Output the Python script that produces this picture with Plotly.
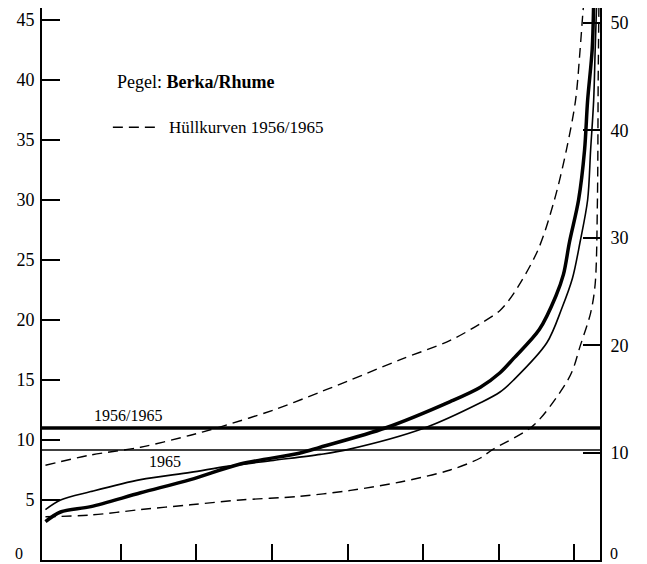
import plotly.graph_objects as go

# ---- data (x: days of year, y: left-axis units) ----
thick_days = [0, 10, 30, 63, 96, 129, 168, 182, 225, 268, 288, 301, 310, 327, 338, 343, 347, 353, 357, 359, 362, 363]
thick_vals = [3.2, 4.0, 4.45, 5.6, 6.7, 8.0, 8.9, 9.4, 11.0, 13.2, 14.4, 15.6, 16.8, 19.2, 22.0, 23.8, 26.5, 30.0, 34.2, 38.3, 42.5, 46.5]

thin_days = [0, 10, 30, 63, 96, 120, 151, 182, 200, 251, 288, 301, 310, 332, 342, 349, 354, 359, 361, 363, 364, 365]
thin_vals = [4.2, 5.0, 5.7, 6.7, 7.3, 7.8, 8.3, 8.8, 9.2, 11.0, 13.1, 14.0, 15.0, 18.1, 21.0, 23.5, 26.5, 30.0, 34.2, 38.3, 42.5, 46.5]

upper_days = [0, 30, 63, 96, 116, 151, 182, 202, 235, 268, 288, 301, 310, 326, 337, 345, 351, 354, 356, 357]
upper_vals = [7.9, 8.75, 9.4, 10.4, 11.1, 12.5, 14.0, 15.0, 16.7, 18.3, 19.7, 20.8, 22.2, 25.8, 30.0, 34.2, 38.3, 42.5, 45.8, 47.0]

lower_days = [0, 30, 63, 96, 129, 168, 202, 235, 268, 288, 296, 323, 343, 349, 354, 361, 364, 365.5, 366, 366.5]
lower_vals = [3.6, 3.75, 4.2, 4.6, 5.0, 5.3, 5.8, 6.5, 7.5, 8.5, 9.2, 11.2, 14.4, 15.8, 17.8, 20.6, 23.0, 30.0, 40.0, 46.5]

mean_1956_1965 = 11.0
mean_1965 = 9.17

x_ticks = [50, 100, 150, 200, 250, 300, 350]
left_ticks = [5, 10, 15, 20, 25, 30, 35, 40, 45]
right_ticks = [10, 20, 30, 40, 50]
zero_label = "0"

FONT = "Liberation Serif"
SPL = dict(shape="spline", smoothing=0.9)

fig = go.Figure()

fig.add_trace(go.Scatter(x=upper_days, y=upper_vals, mode="lines",
                         line=dict(color="black", width=1.4, dash="10px,6px", **SPL),
                         showlegend=False, hoverinfo="skip"))
fig.add_trace(go.Scatter(x=lower_days, y=lower_vals, mode="lines",
                         line=dict(color="black", width=1.4, dash="10px,6px", **SPL),
                         showlegend=False, hoverinfo="skip"))
fig.add_trace(go.Scatter(x=thin_days, y=thin_vals, mode="lines",
                         line=dict(color="black", width=1.6, **SPL),
                         showlegend=False, hoverinfo="skip"))
fig.add_trace(go.Scatter(x=thick_days, y=thick_vals, mode="lines",
                         line=dict(color="black", width=3.5, **SPL),
                         showlegend=False, hoverinfo="skip"))
# invisible trace to activate the right axis
fig.add_trace(go.Scatter(x=[0], y=[0], yaxis="y2", mode="markers",
                         marker=dict(opacity=0), showlegend=False, hoverinfo="skip"))

# mean lines
fig.add_shape(type="line", xref="paper", x0=0, x1=1, yref="y", y0=mean_1956_1965, y1=mean_1956_1965,
              line=dict(color="black", width=3.5))
fig.add_shape(type="line", xref="paper", x0=0, x1=1, yref="y", y0=mean_1965, y1=mean_1965,
              line=dict(color="black", width=1.6))

fig.add_annotation(x=31, y=mean_1956_1965 + 0.15, xref="x", yref="y", text="1956/1965",
                   showarrow=False, xanchor="left", yanchor="bottom",
                   font=dict(family=FONT, size=16, color="black"))
fig.add_annotation(x=67, y=mean_1965 - 0.05, xref="x", yref="y", text="1965",
                   showarrow=False, xanchor="left", yanchor="top",
                   font=dict(family=FONT, size=16, color="black"))

# legend-like text
fig.add_annotation(x=0.131, y=0.866, xref="paper", yref="paper",
                   text="Pegel: <b>Berka/Rhume</b>", showarrow=False,
                   xanchor="left", yanchor="middle",
                   font=dict(family=FONT, size=18, color="black"))
fig.add_shape(type="line", xref="paper", yref="paper", x0=0.127, x1=0.206, y0=0.784, y1=0.784,
              line=dict(color="black", width=1.4, dash="10px,6px"))
fig.add_annotation(x=0.224, y=0.784, xref="paper", yref="paper",
                   text="Hüllkurven 1956/1965", showarrow=False,
                   xanchor="left", yanchor="middle",
                   font=dict(family=FONT, size=17, color="black"))

# zero labels of both value axes (sit on the bottom edge)
fig.add_annotation(x=0, y=0, xref="paper", yref="y", text=zero_label, showarrow=False,
                   xanchor="right", yanchor="bottom", xshift=-17, yshift=-4,
                   font=dict(family=FONT, size=16, color="black"))
fig.add_annotation(x=1, y=0, xref="paper", yref="y", text=zero_label, showarrow=False,
                   xanchor="left", yanchor="bottom", xshift=8, yshift=-4,
                   font=dict(family=FONT, size=16, color="black"))

# page body has an 8px margin: size and margins chosen so the plot area
# lands at x 42..600, y 8..560 of the window
fig.update_layout(
    width=631, height=556,
    margin=dict(l=34, r=39, t=0, b=4, autoexpand=False),
    paper_bgcolor="white", plot_bgcolor="white",
    font=dict(family=FONT, size=18, color="black"),
    xaxis=dict(range=[-2.3, 367.2], tickvals=x_ticks, showticklabels=False,
               ticks="inside", ticklen=16, tickwidth=1.5, tickcolor="black",
               showline=True, linecolor="black", linewidth=2, mirror=True,
               showgrid=False, zeroline=False, automargin=False),
    yaxis=dict(range=[0, 46.0], tickvals=left_ticks, ticks="inside", ticklen=18,
               tickwidth=1.5, tickcolor="black", showline=True, linecolor="black",
               linewidth=2, showgrid=False, zeroline=False, automargin=False,
               ticklabelstandoff=2,
               tickfont=dict(family=FONT, size=18, color="black")),
    yaxis2=dict(range=[0, 51.4], tickvals=right_ticks, overlaying="y", side="right",
                ticks="inside", ticklen=17, tickwidth=1.5, tickcolor="black",
                showline=True, linecolor="black", linewidth=2, showgrid=False,
                zeroline=False, automargin=False, ticklabelstandoff=5,
                tickfont=dict(family=FONT, size=18, color="black")),
)

fig.write_html("out.html")
